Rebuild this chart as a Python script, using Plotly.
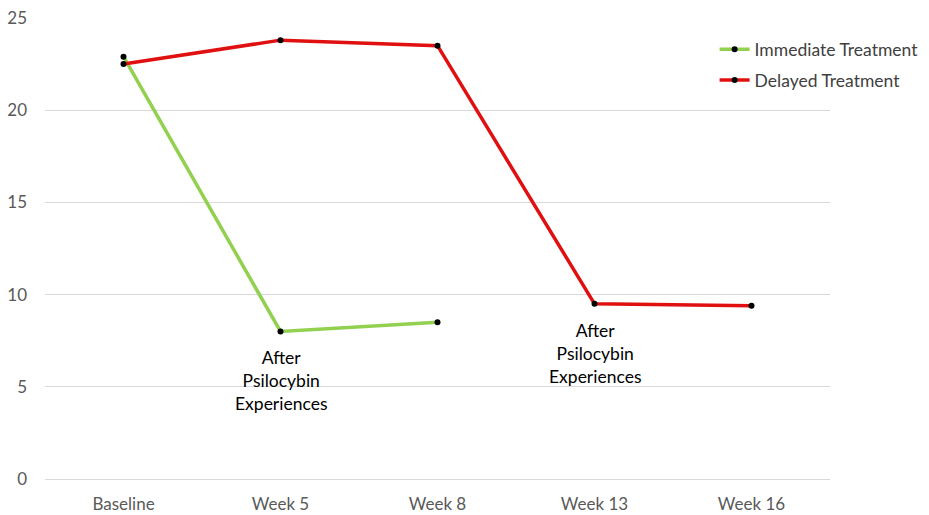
import plotly.graph_objects as go

categories = ["Baseline", "Week 5", "Week 8", "Week 13", "Week 16"]
immediate = [22.9, 8.0, 8.5, None, None]
delayed = [22.5, 23.8, 23.5, 9.5, 9.4]
y_ticks = [0, 5, 10, 15, 20, 25]
notes = [("Week 5", 8.0, "After<br>Psilocybin<br>Experiences"),
         ("Week 13", 9.5, "After<br>Psilocybin<br>Experiences")]

FONT = "Lato, Calibri, Carlito, sans-serif"

fig = go.Figure()
fig.add_trace(go.Scatter(
    x=categories, y=immediate, name="Immediate Treatment", mode="lines+markers",
    line=dict(color="#92D050", width=3.5),
    marker=dict(color="black", size=6), legendgroup="a"))
fig.add_trace(go.Scatter(
    x=categories, y=delayed, name="Delayed Treatment", mode="lines+markers",
    line=dict(color="#E01010", width=3.5),
    marker=dict(color="black", size=6), legendgroup="b"))

for cat, yv, txt in notes:
    fig.add_annotation(x=cat, y=yv, text=txt, showarrow=False, yanchor="top",
                       yshift=-14, font=dict(family=FONT, size=17.5, color="black"),
                       align="center")

fig.update_layout(
    width=929, height=515,
    margin=dict(l=45, r=99, t=18, b=36, autoexpand=False),
    paper_bgcolor="white", plot_bgcolor="white",
    font=dict(family=FONT, size=17, color="#595959"),
    showlegend=True,
    legend=dict(x=0.853, y=0.971, xanchor="left", yanchor="top",
                traceorder="grouped", tracegroupgap=5,
                font=dict(family=FONT, size=17.5, color="#404040"),
                bgcolor="rgba(0,0,0,0)"),
    xaxis=dict(type="category", categoryorder="array", categoryarray=categories,
               range=[-0.5, 4.5], automargin=False,
               showgrid=False, showline=True, linecolor="#D9D9D9", linewidth=1,
               ticks="", tickfont=dict(size=17, color="#595959"),
               ticklabelstandoff=10),
    yaxis=dict(range=[0, 25], tickvals=y_ticks, showgrid=True, gridcolor="#D9D9D9",
               gridwidth=1, zeroline=False, showline=False, ticks="", automargin=False,
               tickfont=dict(size=17, color="#595959"), ticklabelstandoff=17),
)

fig.write_html("out.html")
